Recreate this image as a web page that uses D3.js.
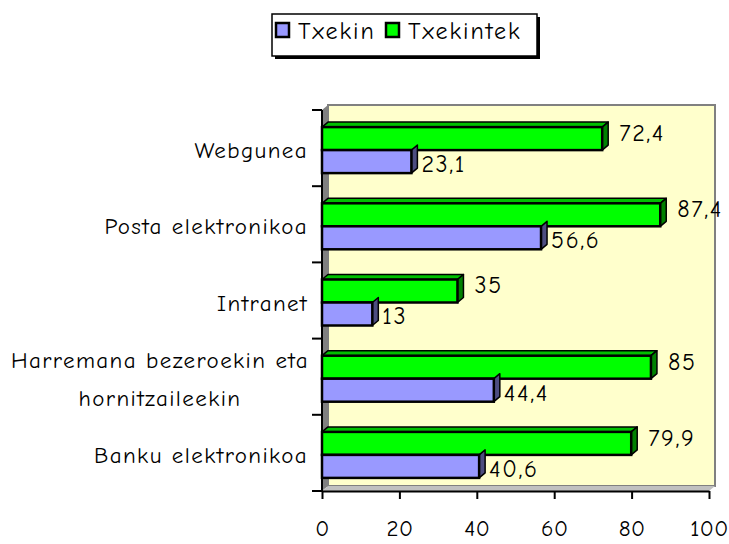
<!DOCTYPE html>
<html>
<head>
<meta charset="utf-8">
<script src="https://cdn.jsdelivr.net/npm/d3@7"></script>
<style>
body { margin:0; background:#fff; }
svg text { font-family: "Comic Sans MS", "Comic Neue", "Open Sans", sans-serif; fill:#000; letter-spacing:1.4px; }
</style>
</head>
<body>
<div class="chart"></div>
<script>
// data
const categories = [
  ['Webgunea'],
  ['Posta elektronikoa'],
  ['Intranet'],
  ['Harremana bezeroekin eta', 'hornitzaileekin'],
  ['Banku elektronikoa']
]
const txekin = [23.1, 56.6, 13, 44.4, 40.6]
const txekintek = [72.4, 87.4, 35, 85, 79.9]
const seriesNames = ['Txekin', 'Txekintek']
const xTicks = [0, 20, 40, 60, 80, 100]

const width = 729, height = 544
const dx = 6, dy = -5 // 3d depth

const colors = {
  Txekin: {front:'#9999FF', top:'#7373BF', side:'#4D4D80'},
  Txekintek: {front:'#00FF00', top:'#00BF00', side:'#008000'}
}

const svg = d3.select('.chart').append('svg')
.attr('width', width)
.attr('height', height)

let xScale = d3.scaleLinear().domain([0,100]).range([322, 709])
let yScale = d3.scaleBand().domain(d3.range(categories.length)).range([110, 491])

const x0 = xScale(0), x1 = xScale(100)
const yTop = yScale.range()[0], yBot = yScale.range()[1]

// walls
svg.append('rect')
.attr('x', x0 + dx).attr('y', yTop + dy)
.attr('width', x1 - x0).attr('height', yBot - yTop)
.style('fill', '#FFFFCC')
.style('stroke', '#808080')
.style('stroke-width', 2)

svg.append('polygon')
.attr('points', [[x0,yTop],[x0+dx,yTop+dy],[x0+dx,yBot+dy],[x0,yBot]].join(' '))
.style('fill', '#808080')

svg.append('polygon')
.attr('points', [[x0,yBot],[x0+dx,yBot+dy],[x1+dx,yBot+dy],[x1,yBot]].join(' '))
.style('fill', '#C0C0C0')

// bars
const barH = 23
const rows = categories.map((c,i) => ({i, vals:[{k:'Txekintek', v:txekintek[i]}, {k:'Txekin', v:txekin[i]}]}))

rows.forEach(r => {
  let yc = yScale(r.i) + yScale.bandwidth()/2 + 2
  r.vals.forEach((d,j) => {
    let y = yc - barH + j*barH
    let xe = xScale(d.v)
    let g = svg.append('g').attr('class', 'bar ' + d.k)
    let c = colors[d.k]
    if(j === 0){
      g.append('polygon')
      .attr('points', [[x0,y],[x0+dx,y+dy],[xe+dx,y+dy],[xe,y]].join(' '))
      .style('fill', c.top).style('stroke','#000').style('stroke-width',1.5).style('stroke-linejoin','round')
    }
    g.append('polygon')
    .attr('points', [[xe,y],[xe+dx,y+dy],[xe+dx,y+barH+dy],[xe,y+barH]].join(' '))
    .style('fill', c.side).style('stroke','#000').style('stroke-width',1.5).style('stroke-linejoin','round')
    g.append('rect')
    .attr('x', x0).attr('y', y)
    .attr('width', xe - x0).attr('height', barH)
    .style('fill', c.front).style('stroke','#000').style('stroke-width',2.5)

    svg.append('text')
    .attr('x', xe + dx + (j === 0 ? 11 : 4))
    .attr('y', y + barH/2 + (j === 0 ? -6 : 2))
    .attr('dy', '0.35em')
    .style('font-size', '24px')
    .style('letter-spacing', '1.6px')
    .text(String(d.v).replace('.', ','))
  })
})

// y axis
svg.append('line')
.attr('x1', x0).attr('x2', x0).attr('y1', yTop).attr('y2', yBot)
.style('stroke','#000').style('stroke-width',2)

d3.range(categories.length + 1).forEach(i => {
  let y = yTop + i*yScale.step()
  svg.append('line')
  .attr('x1', x0 - 10).attr('x2', x0).attr('y1', y).attr('y2', y)
  .style('stroke','#000').style('stroke-width',2)
})

categories.forEach((lines, i) => {
  let yc = yScale(i) + yScale.bandwidth()/2 + 2
  let t = svg.append('text')
  .attr('class', 'cat')
  .style('font-size', '23px')
  if(lines.length === 1){
    t.attr('x', 308).attr('y', yc).attr('dy','0.35em').attr('text-anchor','end').text(lines[0])
  } else {
    t.attr('text-anchor','middle')
    lines.forEach((l,k) => {
      t.append('tspan').attr('x', 160).attr('y', yc + (k - 0.5)*38).attr('dy','0.35em').text(l)
    })
  }
})

// x axis
const xAxis = svg.append('g')
.attr('transform', 'translate(0,' + yBot + ')')
.call(d3.axisBottom(xScale).tickValues(xTicks).tickSize(8).tickPadding(21).tickSizeOuter(0))

xAxis.select('.domain').style('stroke','#000').style('stroke-width',2)
xAxis.selectAll('.tick line').style('stroke','#000').style('stroke-width',2)
xAxis.selectAll('.tick text')
.style('font-size', '23px')
.style('letter-spacing', '0.5px')
.style('font-family', '"Comic Sans MS", "Comic Neue", "Open Sans", sans-serif')

// legend
const leg = svg.append('g').attr('class', 'legend')
leg.append('rect').attr('x', 275).attr('y', 17).attr('width', 265).attr('height', 42).style('fill','#000')
leg.append('rect').attr('x', 272).attr('y', 14).attr('width', 265).attr('height', 42)
.style('fill','#fff').style('stroke','#000').style('stroke-width',1.5)

const legX = [276, 386]
seriesNames.forEach((s,i) => {
  leg.append('rect').attr('x', legX[i]).attr('y', 23).attr('width', 13).attr('height', 14)
  .style('fill', colors[s].front).style('stroke','#000').style('stroke-width',2.5)
  leg.append('text').attr('x', legX[i] + 22).attr('y', 31).attr('dy','0.35em')
  .style('font-size','24px').style('letter-spacing','2px').text(s)
})
</script>
</body>
</html>
